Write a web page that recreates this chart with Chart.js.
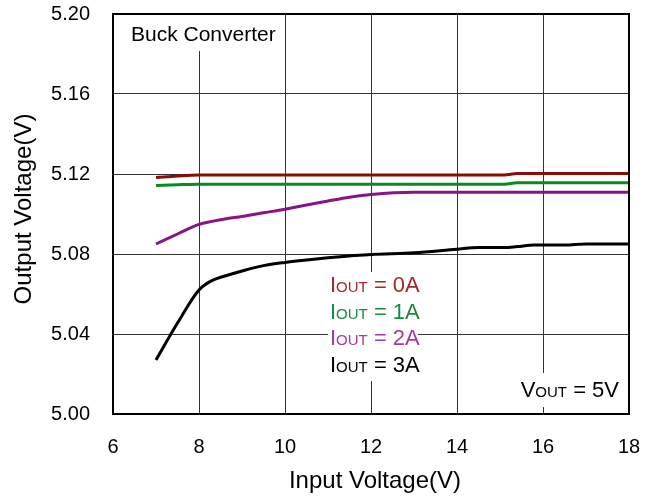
<!DOCTYPE html>
<html>
<head>
<meta charset="utf-8">
<script src="https://cdn.jsdelivr.net/npm/chart.js@4.4.0/dist/chart.umd.min.js"></script>
<style>
  html, body { margin: 0; padding: 0; background: #fff; }
</style>
</head>
<body>
<canvas id="voutChart" width="658" height="500"></canvas>
<script>
// input voltage samples (V)
const vin = [7, 7.5, 8, 8.3, 8.6, 9, 9.5, 10, 10.5, 11, 11.5, 12, 13, 14, 14.5, 15.1, 15.4, 15.8, 16.5, 17, 18];

// output voltage per load current (V)
const iout0A = [5.1182, 5.1190, 5.1195, 5.1195, 5.1195, 5.1195, 5.1195, 5.1195, 5.1195, 5.1195, 5.1195, 5.1195, 5.1195, 5.1195, 5.1195, 5.1195, 5.1202, 5.1202, 5.1202, 5.1202, 5.1202];
const iout1A = [5.1142, 5.1146, 5.1149, 5.1149, 5.1149, 5.1149, 5.1149, 5.1149, 5.1149, 5.1149, 5.1149, 5.1149, 5.1149, 5.1149, 5.1149, 5.1149, 5.1156, 5.1156, 5.1156, 5.1156, 5.1156];
const iout2A = [5.0850, 5.0900, 5.0948, 5.0963, 5.0975, 5.0988, 5.1006, 5.1024, 5.1045, 5.1065, 5.1084, 5.1098, 5.1109, 5.1109, 5.1109, 5.1109, 5.1109, 5.1109, 5.1109, 5.1109, 5.1109];
const iout3A = [5.0270, 5.0455, 5.0620, 5.0667, 5.0690, 5.0715, 5.0742, 5.0758, 5.0770, 5.0781, 5.0790, 5.0798, 5.0806, 5.0824, 5.0832, 5.0832, 5.0837, 5.0845, 5.0845, 5.0850, 5.0850];

const seriesLabels = ['0A', '1A', '2A', '3A'];
const lineColors = ['#8b0a0a', '#078a1e', '#8a138a', '#000000'];
const textColors = ['#a0282c', '#178a45', '#a23aa2', '#000000'];

const xTicks = [6, 8, 10, 12, 14, 16, 18];
const yTicks = [5.00, 5.04, 5.08, 5.12, 5.16, 5.20];

function toPoints(ys) {
    return vin.map((x, i) => ({ x: x, y: ys[i] }));
}

// draws "I" + small "OUT" + rest, returns width
function drawSubText(ctx, x, y, main, sub, rest, big, small, doDraw) {
    ctx.font = big + 'px "Liberation Sans", Arial, sans-serif';
    const w1 = ctx.measureText(main).width;
    const w3 = ctx.measureText(rest).width;
    ctx.font = small + 'px "Liberation Sans", Arial, sans-serif';
    const w2 = ctx.measureText(sub).width;
    if (doDraw) {
        ctx.font = big + 'px "Liberation Sans", Arial, sans-serif';
        ctx.fillText(main, x, y);
        ctx.font = small + 'px "Liberation Sans", Arial, sans-serif';
        ctx.fillText(sub, x + w1, y);
        ctx.font = big + 'px "Liberation Sans", Arial, sans-serif';
        ctx.fillText(rest, x + w1 + w2, y);
    }
    return w1 + w2 + w3;
}

const annotations = {
    id: 'annotations',
    beforeDatasetsDraw(chart) {
        const ctx = chart.ctx;
        ctx.save();
        ctx.fillStyle = '#fff';
        // white boxes behind the labels, they hide the grid
        ctx.fillRect(122, 15, 160, 36);
        ctx.fillRect(328, 272, 90, 109);
        ctx.fillRect(512, 373, 112, 34);
        ctx.restore();
    },
    afterDraw(chart) {
        const ctx = chart.ctx;
        const a = chart.chartArea;
        ctx.save();
        ctx.strokeStyle = '#000';
        ctx.lineWidth = 2;
        ctx.strokeRect(a.left, a.top, a.right - a.left, a.bottom - a.top);

        ctx.fillStyle = '#000';
        ctx.textBaseline = 'alphabetic';
        ctx.textAlign = 'left';
        ctx.font = '21px "Liberation Sans", Arial, sans-serif';
        ctx.fillText('Buck Converter', 131, 41);

        seriesLabels.forEach((lab, i) => {
            ctx.fillStyle = textColors[i];
            drawSubText(ctx, 330, 292 + i * 26.6, 'I', 'OUT', ' = ' + lab, 22, 15, true);
        });

        ctx.fillStyle = '#000';
        const w = drawSubText(ctx, 0, 0, 'V', 'OUT', ' = 5V', 22, 15, false);
        drawSubText(ctx, 619 - w, 397, 'V', 'OUT', ' = 5V', 22, 15, true);

        // axis titles
        ctx.font = '24px "Liberation Sans", Arial, sans-serif';
        ctx.textAlign = 'center';
        ctx.fillText('Input Voltage(V)', 375, 488);
        ctx.translate(31, 209);
        ctx.rotate(-Math.PI / 2);
        ctx.fillText('Output Voltage(V)', 0, 0);
        ctx.restore();
    }
};

const ctx = document.getElementById('voutChart').getContext('2d');

new Chart(ctx, {
    type: 'line',
    data: {
        datasets: [iout0A, iout1A, iout2A, iout3A].map((ys, i) => ({
            label: 'IOUT = ' + seriesLabels[i],
            data: toPoints(ys),
            borderColor: lineColors[i],
            borderWidth: 3,
            pointRadius: 0,
            fill: false,
            cubicInterpolationMode: 'monotone'
        }))
    },
    options: {
        responsive: false,
        animation: false,
        layout: { padding: { top: 14, right: 29, left: 0, bottom: 0 } },
        plugins: {
            legend: { display: false },
            tooltip: { enabled: false }
        },
        scales: {
            x: {
                type: 'linear',
                min: 6,
                max: 18,
                afterBuildTicks: scale => { scale.ticks = xTicks.map(v => ({ value: v })); },
                afterFit: scale => {
                    scale.height = 86;
                    scale.paddingLeft = 0;
                    scale.paddingRight = 0;
                },
                grid: { color: '#333', lineWidth: 1, drawTicks: false },
                border: { display: false },
                ticks: {
                    color: '#000',
                    padding: 21,
                    font: { family: '"Liberation Sans", Arial, sans-serif', size: 20 }
                }
            },
            y: {
                type: 'linear',
                min: 5.00,
                max: 5.20,
                afterBuildTicks: scale => { scale.ticks = yTicks.map(v => ({ value: v })); },
                afterFit: scale => {
                    scale.width = 113;
                    scale.paddingTop = 0;
                    scale.paddingBottom = 0;
                },
                grid: { color: '#333', lineWidth: 1, drawTicks: false },
                border: { display: false },
                ticks: {
                    color: '#000',
                    padding: 23,
                    callback: v => Number(v).toFixed(2),
                    font: { family: '"Liberation Sans", Arial, sans-serif', size: 20 }
                }
            }
        }
    },
    plugins: [annotations]
});
</script>
</body>
</html>
